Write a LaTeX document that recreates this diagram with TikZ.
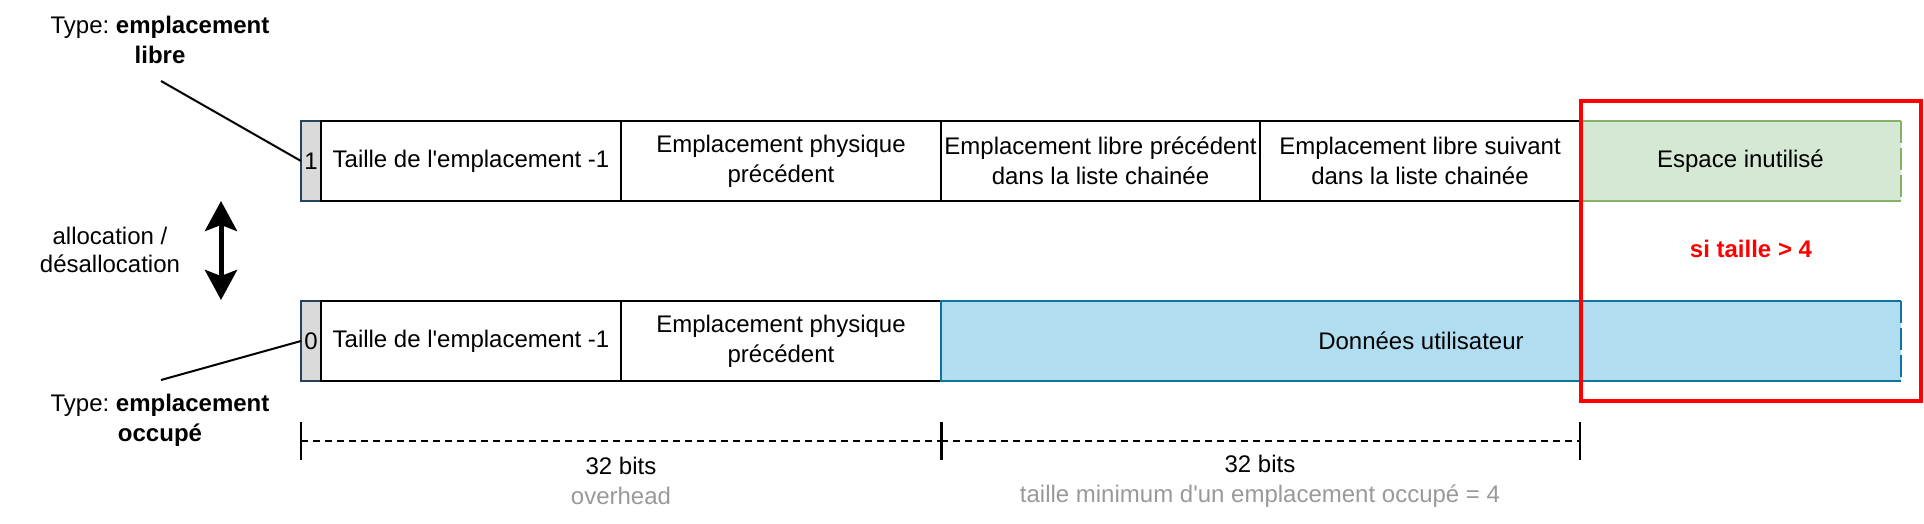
\documentclass[tikz,border=0pt]{standalone}
\usepackage{fontspec}
\setmainfont{Liberation Sans}
\usetikzlibrary{arrows.meta}
\definecolor{flagfill}{HTML}{DADADA}
\definecolor{flagdraw}{HTML}{23445D}
\definecolor{gfill}{HTML}{D5E8D4}
\definecolor{gdraw}{HTML}{82B366}
\definecolor{bfill}{HTML}{B1DDF0}
\definecolor{bdraw}{HTML}{10739E}
\definecolor{redc}{HTML}{FF0000}
\definecolor{grayt}{HTML}{999999}
\frenchspacing
\begin{document}
\begin{tikzpicture}[x=0.5pt,y=-0.5pt,
  every node/.style={font=\fontsize{12}{15}\selectfont, inner sep=0pt, outer sep=0pt},
  field/.style={draw=black, line width=1pt, minimum height=40pt, align=center},
  flagbox/.style={draw=flagdraw, fill=flagfill, line width=1pt, minimum width=10pt, minimum height=40pt, font=\fontsize{12}{14}\selectfont},
  colbox/.style={minimum height=40pt, align=center},
  link/.style={line width=1pt, draw=black},
  dimline/.style={line width=0.9pt, dash pattern=on 3.5pt off 2.5pt},
  dimtick/.style={line width=1pt},
  lbl/.style={align=center}]
\useasboundingbox (0,0) rectangle (1924,524);

% top row (emplacement libre)
\node[flagbox] (f1) at (311,161) {1};
\node[field, minimum width=150pt] (a1) at (471,161) {Taille de l\textquotesingle emplacement -1};
\node[field, minimum width=160pt] (a2) at (781,161) {Emplacement physique\\précédent};
\node[field, minimum width=159.5pt] (a3) at (1100.5,161) {Emplacement libre précédent\\dans la liste chainée};
\node[field, minimum width=160pt] (a4) at (1420,161) {Emplacement libre suivant\\dans la liste chainée};
\node[colbox, fill=gfill, minimum width=160.5pt] (g) at (1740.5,161) {Espace inutilisé};
\draw[line width=1pt, draw=gdraw] (g.north east) -- (g.north west) -- (g.south west) -- (g.south east);
\draw[line width=1pt, draw=gdraw, dash pattern=on 11pt off 2.5pt] (g.north east) -- (g.south east);

% bottom row (emplacement occupé)
\node[flagbox] (f0) at (311,341) {0};
\node[field, minimum width=150pt] (b1) at (471,341) {Taille de l\textquotesingle emplacement -1};
\node[field, minimum width=160pt] (b2) at (781,341) {Emplacement physique\\précédent};
\node[colbox, fill=bfill, minimum width=480pt] (bd) at (1421,341) {Données utilisateur};
\draw[line width=1pt, draw=bdraw] (bd.north east) -- (bd.north west) -- (bd.south west) -- (bd.south east);
\draw[line width=1pt, draw=bdraw, dash pattern=on 11pt off 2.5pt] (bd.north east) -- (bd.south east);

% red frame
\node[draw=redc, line width=2pt, minimum width=170pt, minimum height=150pt] (red) at (1751,251) {};
\node[text=redc, font=\fontsize{12}{15}\selectfont\bfseries] (si) at (1751,249) {si taille > 4};

% type labels
\node[lbl] (tl) at (160,40) {Type: \textbf{emplacement}\\\textbf{libre}};
\coordinate (tlc) at (161,81);
\draw[link] (tlc) -- (f1.west);
\node[lbl] (bl) at (160,420) {Type: \textbf{emplacement}\\\textbf{occupé}};
\coordinate (blc) at (161,380);
\draw[link] (blc) -- (f0.west);

% allocation arrow
\node[lbl, font=\fontsize{12}{14}\selectfont] (al) at (110,250) {allocation /\\désallocation};
\coordinate (up) at (221,201);
\coordinate (dn) at (221,300);
\draw[line width=2.5pt, {Stealth[length=15pt,width=16pt,inset=3pt]}-{Stealth[length=15pt,width=16pt,inset=3pt]}] (up) -- (dn);

% dimension line
\coordinate (d0) at (301,441);
\coordinate (d1) at (941,441);
\coordinate (d2) at (1580,441);
\draw[dimline] (d0) -- (d1);
\draw[dimline] (d1) -- (d2);
\draw[dimtick] (d0) +(0,-19) -- +(0,19);
\draw[dimtick, line width=1.5pt] (d1) +(0,-19) -- +(0,19);
\draw[dimtick] (d2) +(0,-19) -- +(0,19);
\node[lbl] (t1) at (621,481) {32 bits\\\textcolor{grayt}{overhead}};
\node[lbl] (t2) at (1260,481) {32 bits\\\textcolor{grayt}{taille minimum d\textquotesingle un emplacement occupé = 4}};
\end{tikzpicture}
\end{document}
